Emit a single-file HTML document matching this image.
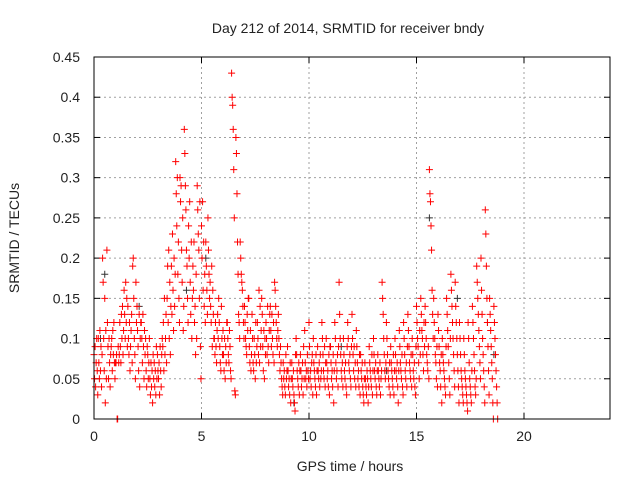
<!DOCTYPE html>
<html><head><meta charset="utf-8"><style>
body{margin:0;background:#fff}
svg{display:block;font-family:"Liberation Sans",sans-serif}
</style></head><body>
<svg id="chart" width="640" height="480" viewBox="0 0 640 480">
<text x="348" y="33" font-size="14" text-anchor="middle" fill="#222">Day 212 of 2014, SRMTID for receiver bndy</text>
<text transform="translate(19,238) rotate(-90)" font-size="14" text-anchor="middle" fill="#222">SRMTID / TECUs</text>
<text x="350" y="471" font-size="14" text-anchor="middle" fill="#222">GPS time / hours</text>
<g id="grid"></g>
<g id="ticks"></g>
<g id="marks"></g>
<rect x="94" y="57" width="516" height="362" fill="none" stroke="#000" stroke-width="1"/>
</svg>
<script>
const xTicks=[0,5,10,15,20];
const yTicks=[0,0.05,0.1,0.15,0.2,0.25,0.3,0.35,0.4,0.45];
const yTickLabels=["0","0.05","0.1","0.15","0.2","0.25","0.3","0.35","0.4","0.45"];
const binHours=0.2;
const binValues=[
[.08,.05,.09,.04,.07,.1,.06,.03],[.1,.07,.05,.11,.06,.09,.04,.08],[.2,.17,.1,.06,.15,.02,.11,.05],[.21,.12,.09,.05,.1,.07,.04,.08],
[.09,.1,.06,.11,.08,.12,.07,.05],[.07,.07,.08,0,0,.09,.07,.08],[.12,.09,.07,.13,.1,.14,.08,.11],[.16,.13,.1,.17,.12,.15,.09,.14],
[.1,.08,.12,.06,.09,.11,.13,.07],[.19,.2,.15,.1,.08,.05,.17,.12],[.14,.11,.09,.06,.13,.04,.1,.12],[.12,.1,.07,.13,.09,.05,.11,.08],
[.1,.06,.04,.09,.08,.05,.07,.1],[.05,.03,.07,.04,.06,.02,.08,.05],[.07,.04,.06,.03,.09,.05,.08,.06],[.05,.07,.03,.09,.06,.04,.08,.1],
[.09,.12,.06,.15,.08,.1,.13,.07],[.15,.19,.12,.21,.1,.17,.08,.14],[.19,.13,.23,.16,.11,.2,.14,.18],[.32,.28,.24,.3,.18,.22,.15,.12],
[.3,.27,.29,.21,.17,.25,.11,.14],[.36,.33,.29,.26,.21,.19,.15,.12],[.24,.2,.27,.17,.13,.22,.1,.15],[.19,.16,.22,.12,.14,.08,.18,.1],
[.29,.26,.23,.21,.15,.27,.09,.05],[.24,.2,.27,.16,.22,.14,.18,.12],[.22,.19,.16,.13,.25,.21,.18,.15],[.17,.14,.12,.19,.09,.16,.13,.1],
[.1,.08,.12,.09,.07,.11,.13,.1],[.15,.12,.09,.07,.06,.14,.1,.08],[.11,.08,.06,.1,.05,.09,.07,.12],[.12,.1,.08,.07,.11,.09,.06,.05],
[.43,.4,.39,.36,.31,.25,.035,.03],[.35,.33,.28,.22,.18,.13,.12,.1],[.22,.2,.18,.17,.16,.14,.12,.1],[.14,.12,.1,.09,.08,.13,.11,.15],
[.15,.09,.07,.11,.06,.08,.13,.1],[.07,.06,.1,.08,.05,.12,.07,.09],[.12,.1,.08,.16,.07,.14,.09,.11],[.15,.13,.09,.06,.11,.05,.1,.08],
[.12,.1,.08,.14,.09,.07,.11,.13],[.14,.11,.09,.13,.1,.08,.12,.07],[.17,.16,.14,.12,.1,.09,.11,.13],[.1,.08,.06,.09,.07,.05,.04,.03],
[.07,.05,.06,.04,.03,.08,.05,.06],[.09,.06,.04,.05,.03,.07,.02,.05],[.07,.05,.04,.06,.03,.02,.01,.08],[.1,.08,.06,.05,.04,.07,.03,.06],
[.08,.06,.04,.05,.07,.03,.09,.05],[.11,.07,.05,.06,.04,.08,.06,.05],[.12,.09,.05,.06,.04,.07,.08,.03],[.1,.07,.06,.05,.04,.08,.03,.06],
[.09,.06,.05,.07,.04,.08,.05,.06],[.12,.1,.08,.06,.05,.09,.04,.07],[.1,.07,.05,.06,.04,.08,.03,.09],[.09,.07,.05,.06,.04,.08,.02,.06],
[.12,.1,.07,.05,.06,.08,.04,.09],[.17,.13,.1,.08,.06,.05,.07,.04],[.1,.08,.06,.05,.07,.04,.03,.09],[.12,.1,.07,.06,.08,.05,.04,.09],
[.13,.1,.08,.06,.09,.05,.07,.04],[.11,.09,.07,.05,.06,.04,.08,.03],[.08,.06,.05,.07,.04,.03,.02,.05],[.07,.05,.04,.03,.06,.05,.02,.04],
[.09,.07,.06,.05,.04,.08,.03,.06],[.1,.08,.06,.05,.07,.04,.03,.06],[.08,.06,.05,.04,.07,.03,.05,.06],[.17,.15,.13,.1,.08,.06,.05,.07],
[.12,.1,.08,.06,.05,.04,.07,.03],[.09,.07,.06,.05,.04,.08,.03,.06],[.1,.08,.06,.05,.07,.04,.02,.06],[.11,.09,.07,.06,.05,.08,.04,.03],
[.12,.1,.08,.06,.05,.07,.04,.09],[.13,.11,.09,.07,.06,.05,.08,.04],[.1,.08,.06,.05,.07,.04,.03,.09],[.14,.12,.1,.09,.07,.05,.11,.08],
[.15,.13,.11,.1,.08,.06,.12,.09],[.14,.12,.1,.08,.07,.06,.09,.05],[.31,.28,.27,.24,.21,.16,.13,.1],[.15,.12,.1,.08,.07,.05,.09,.04],
[.13,.11,.09,.07,.06,.04,.08,.02],[.1,.08,.07,.06,.05,.04,.03,.09],[.15,.13,.11,.09,.07,.05,.03,.1],[.18,.16,.14,.12,.1,.08,.06,.04],
[.17,.14,.12,.1,.08,.06,.04,.02],[.12,.1,.08,.06,.05,.04,.03,.02],[.1,.08,.06,.05,.04,.03,.02,.01],[.12,.1,.07,.05,.04,.03,.02,.06],
[.14,.12,.1,.08,.06,.04,.03,.05],[.19,.17,.15,.13,.11,.09,.07,.05],[.2,.16,.13,.1,.08,.06,.04,.02],[.26,.23,.19,.15,.12,.09,.06,.03],
[.15,.13,.11,.09,.07,.05,.02,0],[.14,.12,.1,.08,.06,.04,.02,0]
];
const darkTimes=[0.5,0.3,2.1,4.3,5.2,9.3,11.5,13.6,15.6,16.9,18.3,18.6];
const darkValues=[0.18,0.1,0.14,0.16,0.2,0.02,0.09,0.06,0.25,0.15,0.12,0.08];

const X0=94,X1=610,Y0=419,Y1=57,XMAX=24,YMAX=0.45;
const sx=t=>X0+t/XMAX*(X1-X0);
const sy=v=>Y0-v/YMAX*(Y0-Y1);
const NS="http://www.w3.org/2000/svg";
const grid=document.getElementById('grid'),ticks=document.getElementById('ticks'),marks=document.getElementById('marks');
function mk(tag,attrs,parent){const e=document.createElementNS(NS,tag);for(const k in attrs)e.setAttribute(k,attrs[k]);parent.appendChild(e);return e;}
xTicks.forEach(t=>{
  const x=sx(t);
  if(t>0){const g=mk('line',{x1:x,x2:x,y1:Y1,y2:Y0,stroke:'#a0a0a0','stroke-dasharray':'2,3'},grid);
  
  }
  mk('line',{x1:x,x2:x,y1:Y0,y2:Y0-6,stroke:'#000'},ticks);
  mk('line',{x1:x,x2:x,y1:Y1,y2:Y1+6,stroke:'#000'},ticks);
  const l=mk('text',{x:x,y:Y0+22,'font-size':14,'text-anchor':'middle',fill:'#222'},ticks);
  l.textContent=String(t);
  
  
});
yTicks.forEach((v,i)=>{
  const y=sy(v);
  if(v>0&&v<YMAX){const g=mk('line',{x1:X0,x2:X1,y1:y,y2:y,stroke:'#a0a0a0','stroke-dasharray':'2,3'},grid);
  
  }
  mk('line',{x1:X0,x2:X0+6,y1:y,y2:y,stroke:'#000'},ticks);
  mk('line',{x1:X1,x2:X1-6,y1:y,y2:y,stroke:'#000'},ticks);
  const l=mk('text',{x:X0-14,y:y+5,'font-size':14,'text-anchor':'end',fill:'#222'},ticks);
  l.textContent=yTickLabels[i];
  
  
});
function cross(t,v,color){
  const x=sx(t),y=sy(v);
  const p=mk('path',{d:`M${x-3.5},${y}h7M${x},${y-3.5}v7`,stroke:color,'stroke-width':1,fill:'none'},marks);
  
  
}
darkTimes.forEach((t,i)=>cross(t,darkValues[i],'#333'));
binValues.forEach((row,b)=>{
  row.forEach((v,i)=>cross(b*binHours+i*binHours/row.length,v,'#f00'));
});
</script>
</body></html>
